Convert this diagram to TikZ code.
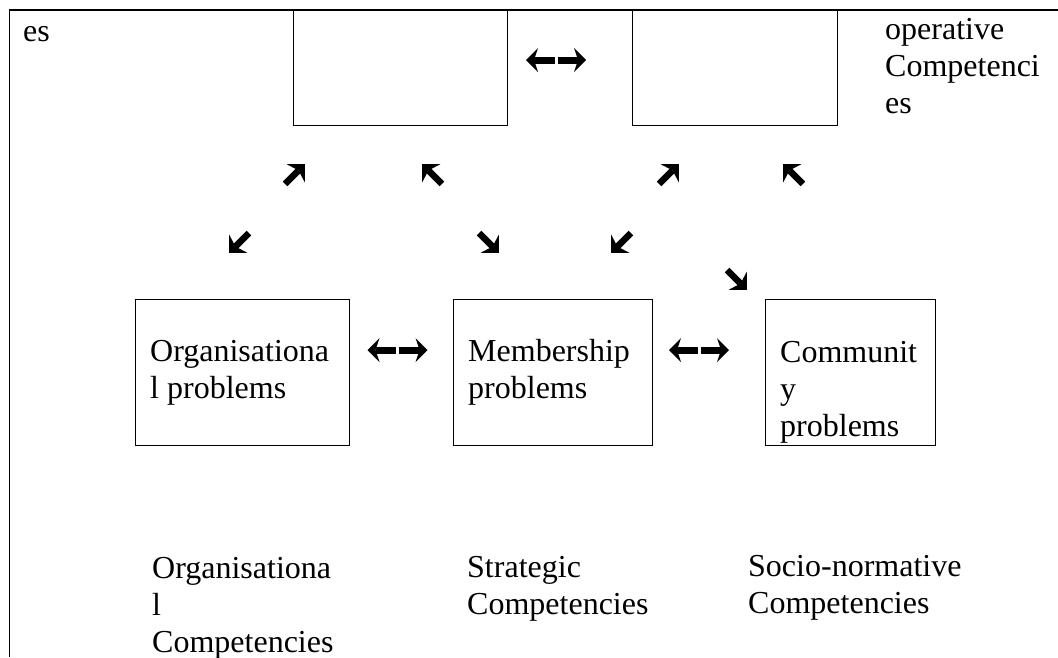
\documentclass[tikz,border=0pt]{standalone}
\usepackage{fontspec}
\setmainfont{Liberation Serif}
\usetikzlibrary{arrows.meta}

\begin{document}
\begin{tikzpicture}[x=1pt,y=-1pt,
  box/.style={draw,line width=1.4pt,inner sep=0pt,anchor=north west},
  lbl/.style={font=\fontsize{32}{36.8}\selectfont,align=left,inner sep=0pt,anchor=base west},
  fat/.style={line width=7pt,-{Stealth[length=12pt,width=24pt,inset=4pt,line width=0pt]}},
  fatd/.style={line width=6.5pt,-{Stealth[length=13pt,width=26pt,inset=4pt,line width=0pt]}}]
\useasboundingbox (0,0) rectangle (1058,657);
% frame and the two upper boxes
\draw[line width=1.4pt] (9.5,657) -- (9.5,10) -- (1058,10);
\node[box,minimum width=214pt,minimum height=115pt] (topL) at (293,10) {};
\node[box,minimum width=205pt,minimum height=115pt] (topR) at (632,10) {};
% base anchor sits on the last line of a label
\node[lbl] (es) at (23,41) {es};
\node[lbl] (oper) at (885,113) {operative\\Competenci\\es};
% problem boxes
\node[box,minimum width=214pt,minimum height=146pt] (org) at (135,299) {};
\node[box,minimum width=199pt,minimum height=146pt] (mem) at (453,299) {};
\node[box,minimum width=170pt,minimum height=146pt] (com) at (765,299) {};
\node[lbl] (orgP) at ([shift={(15,99.5)}]org.north west) {Organisationa\\l problems};
\node[lbl] (memP) at ([shift={(15,99.5)}]mem.north west) {Membership\\problems};
\node[lbl] (comP) at ([shift={(15,137)}]com.north west) {Communit\\y\\problems};
% competencies
\node[lbl] (orgC) at (152,652) {Organisationa\\l\\Competencies};
\node[lbl] (strC) at (467,614.5) {Strategic\\Competencies};
\node[lbl] (socC) at (748,613.5) {Socio-normative\\Competencies};
% arrows
\coordinate (hTop) at (556,60); \coordinate (hOM) at (397.5,350); \coordinate (hMC) at (699,350);
\foreach \c in {hTop,hOM,hMC} {
  \draw[fat,shift={(\c)}] (-1.5,0) -- (-30,0);
  \draw[fat,shift={(\c)}] (1.5,0) -- (30,0);
}
\coordinate (ne1) at (295,174); \coordinate (nw1) at (432,174); \coordinate (ne2) at (669,174); \coordinate (nw2) at (793,174);
\coordinate (sw1) at (239,243); \coordinate (se1) at (489,243); \coordinate (sw2) at (621,243); \coordinate (se2) at (737,280);
\foreach \c/\a in {ne1/45,nw1/135,ne2/45,nw2/135,sw1/225,se1/-45,sw2/225,se2/-45}
  \draw[fatd,shift={(\c)},rotate=\a] (-14,0) -- (14,0);
\end{tikzpicture}
\end{document}
